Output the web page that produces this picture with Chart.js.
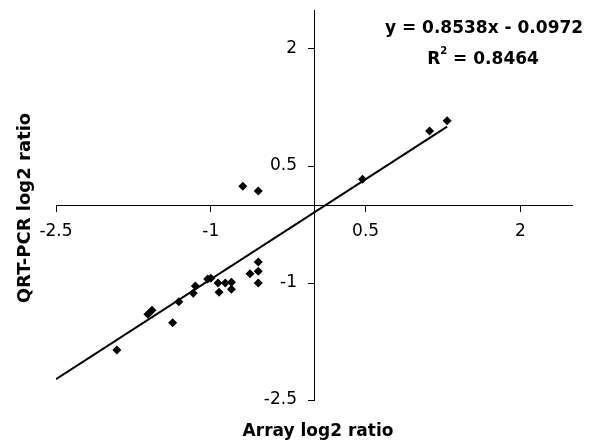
<!DOCTYPE html>
<html>
<head>
<meta charset="utf-8">
<script src="https://cdn.jsdelivr.net/npm/chart.js@4/dist/chart.umd.min.js"></script>
<style>
  html, body { margin: 0; padding: 0; background: #fff; }
</style>
</head>
<body>
<canvas id="ratioChart" width="590" height="444"></canvas>
<script>
// values
const arrayRatio = [-1.91, -1.61, -1.57, -1.37, -1.31, -1.17, -1.15, -1.03, -1.00, -0.93, -0.92, -0.86,
    -0.80, -0.80, -0.62, -0.54, -0.54, -0.54, -0.69, -0.54, 0.47, 1.12, 1.29];
const qpcrRatio = [-1.86, -1.40, -1.35, -1.51, -1.24, -1.13, -1.04, -0.95, -0.94, -1.00, -1.12, -1.00,
    -0.99, -1.08, -0.88, -0.73, -0.85, -1.00, 0.24, 0.18, 0.33, 0.95, 1.08];
const tickValues = [-2.5, -1, 0.5, 2];
const slope = 0.8538;
const intercept = -0.0972;
const rSquared = 0.8464;
const trendX = [-2.5, 1.29];

const points = arrayRatio.map((x, i) => ({ x: x, y: qpcrRatio[i] }));
const trend = trendX.map(x => ({ x: x, y: slope * x + intercept }));

const FONT = '"DejaVu Sans", sans-serif';

// axis titles, y tick labels (left of the centred axis) and the regression text
const labelsPlugin = {
    id: 'labels',
    afterDraw(chart) {
        const ctx = chart.ctx;
        const area = chart.chartArea;
        const xScale = chart.scales.x;
        const yScale = chart.scales.y;
        ctx.save();
        ctx.fillStyle = '#000';

        ctx.textAlign = 'right';
        ctx.textBaseline = 'middle';
        ctx.font = '17px ' + FONT;
        const axisX = xScale.getPixelForValue(0);
        tickValues.forEach(v => {
            ctx.fillText(String(v), axisX - 17, yScale.getPixelForValue(v));
        });

        ctx.textAlign = 'center';
        ctx.font = 'bold 17px ' + FONT;
        ctx.fillText('Array log2 ratio', (area.left + area.right) / 2 + 4, 432);

        ctx.save();
        ctx.translate(25, 208);
        ctx.rotate(-Math.PI / 2);
        ctx.font = 'bold 18px ' + FONT;
        ctx.fillText('QRT-PCR log2 ratio', 0, 0);
        ctx.restore();

        ctx.textBaseline = 'alphabetic';
        ctx.font = 'bold 17px ' + FONT;
        ctx.fillText('y = ' + slope + 'x - ' + Math.abs(intercept).toFixed(4), 484, 33);

        // R² with a small raised 2
        const rest = ' = ' + rSquared;
        const wR = ctx.measureText('R').width;
        const wRest = ctx.measureText(rest).width;
        ctx.font = 'bold 10px ' + FONT;
        const wSup = ctx.measureText('2').width;
        let x = 483 - (wR + wSup + wRest) / 2;
        ctx.textAlign = 'left';
        ctx.font = 'bold 17px ' + FONT;
        ctx.fillText('R', x, 64);
        x += wR;
        ctx.font = 'bold 10px ' + FONT;
        ctx.fillText('2', x, 54);
        x += wSup;
        ctx.font = 'bold 17px ' + FONT;
        ctx.fillText(rest, x, 64);
        ctx.restore();
    }
};

function axisOptions(crossAt, showLabels) {
    return {
        type: 'linear',
        min: -2.5,
        max: 2.5,
        position: crossAt,
        afterBuildTicks: axis => { axis.ticks = tickValues.map(v => ({ value: v })); },
        grid: { drawOnChartArea: false, drawTicks: true, tickLength: 6, color: '#000', lineWidth: 1 },
        border: { display: true, color: '#000', width: 1 },
        ticks: {
            display: showLabels,
            color: '#000',
            font: { family: FONT, size: 17 },
            padding: 10,
            maxRotation: 0,
            autoSkip: false,
            callback: v => String(v)
        }
    };
}

const ctx = document.getElementById('ratioChart').getContext('2d');
new Chart(ctx, {
    type: 'scatter',
    data: {
        datasets: [{
            label: 'Genes',
            data: points,
            pointStyle: 'rectRot',
            pointRadius: 4.5,
            backgroundColor: '#000',
            borderColor: '#000',
            borderWidth: 0
        }, {
            type: 'line',
            label: 'Trend',
            data: trend,
            borderColor: '#000',
            borderWidth: 2,
            pointRadius: 0,
            fill: false
        }]
    },
    options: {
        responsive: false,
        animation: false,
        layout: { padding: { left: 56, right: 18, top: 10, bottom: 44 } },
        scales: {
            x: axisOptions({ y: 0 }, true),
            y: axisOptions({ x: 0 }, false)
        },
        plugins: {
            legend: { display: false },
            tooltip: { enabled: false }
        }
    },
    plugins: [labelsPlugin]
});
</script>
</body>
</html>
